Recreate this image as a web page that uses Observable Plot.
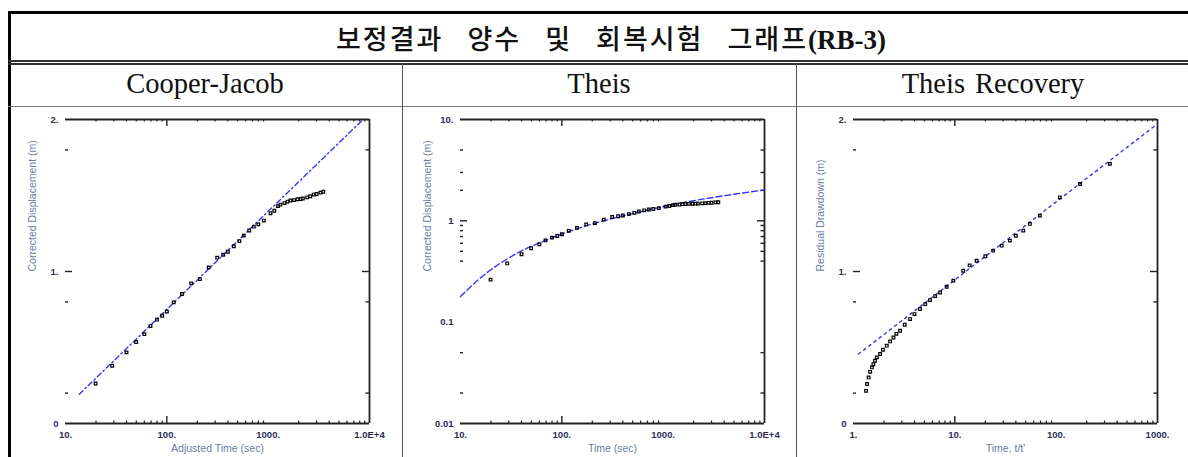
<!DOCTYPE html>
<html>
<head>
<meta charset="utf-8">
<script src="https://cdn.jsdelivr.net/npm/d3@7"></script>
<script src="https://cdn.jsdelivr.net/npm/@observablehq/plot@0.6"></script>
<style>
  html, body { margin: 0; padding: 0; background: #fff; width: 1188px; height: 457px; overflow: hidden; }
  .line { position: absolute; }
  .title { position: absolute; left: 0; width: 1222px; top: 21px; text-align: center; font-family: "Noto Sans CJK KR", sans-serif; font-weight: 500; font-size: 27px; letter-spacing: 2px; word-spacing: 16px; color: #111; line-height: 34px; white-space: nowrap; }
  .title .en { font-family: "Liberation Serif", serif; font-weight: bold; letter-spacing: 0; }
  .head { position: absolute; top: 68px; font-family: "Liberation Serif", serif; font-size: 28.5px; word-spacing: 3px; color: #111; text-align: center; line-height: 32px; white-space: nowrap; }
  .panel { position: absolute; top: 105px; }
  .panel svg { background: transparent !important; overflow: visible; }
</style>
</head>
<body>
<div id="root"></div>
<script>
// ---------- data ----------
const panelTitles = ["Cooper-Jacob", "Theis", "Theis Recovery"];
const chartTitle = "보정결과 양수 및 회복시험 그래프";
const chartTitleTag = "(RB-3)";

// observed displacement (used by Cooper-Jacob and Theis)
const obsTime = [19.8, 28.9, 40, 49.8, 60, 69, 80, 90, 100, 117, 141, 174, 212, 259, 314, 360, 400, 458, 520, 575, 650, 722, 800, 906, 1054, 1150, 1250, 1320, 1450, 1550, 1660, 1800, 1950, 2084, 2200, 2427, 2600, 2820, 3000, 3280, 3500];
const obsDisp = [0.263, 0.380, 0.468, 0.536, 0.588, 0.641, 0.683, 0.709, 0.737, 0.797, 0.852, 0.922, 0.95, 1.027, 1.091, 1.11, 1.13, 1.166, 1.20, 1.236, 1.27, 1.295, 1.31, 1.335, 1.383, 1.40, 1.43, 1.44, 1.45, 1.46, 1.467, 1.47, 1.475, 1.477, 1.48, 1.488, 1.495, 1.506, 1.51, 1.519, 1.525];

// Cooper-Jacob fitted straight line
const cjLineTime = [13.7, 8340];
const cjLineDisp = [0.193, 1.99];

// Theis type-curve fit
const theisTime = [10, 15, 20, 30, 40, 60, 100, 200, 500, 1000, 2000, 5000, 10000];
const theisDisp = [0.179, 0.262, 0.33, 0.43, 0.505, 0.605, 0.74, 0.93, 1.18, 1.38, 1.58, 1.83, 2.02];

// Theis recovery: residual drawdown vs t/t'
const recRatio = [1.33, 1.36, 1.41, 1.46, 1.52, 1.57, 1.63, 1.7, 1.83, 1.95, 2.13, 2.3, 2.48, 2.65, 2.88, 3.2, 3.62, 4.0, 4.53, 5.1, 5.69, 6.4, 7.15, 8.3, 9.67, 12.1, 14, 16.4, 20, 23.9, 29, 34.9, 40, 47.4, 55, 69, 108.8, 172, 339];
const recDraw = [0.215, 0.26, 0.303, 0.34, 0.369, 0.39, 0.413, 0.435, 0.457, 0.485, 0.512, 0.54, 0.566, 0.59, 0.61, 0.65, 0.687, 0.72, 0.753, 0.785, 0.812, 0.838, 0.862, 0.90, 0.94, 1.005, 1.04, 1.071, 1.10, 1.137, 1.17, 1.203, 1.235, 1.269, 1.313, 1.368, 1.488, 1.576, 1.708];
const recLineRatio = [1.12, 980];
const recLineDraw = [0.457, 1.967];

// tick labels
const timeTickVals = [10, 100, 1000, 10000];
const timeTickText = ["10.", "100.", "1000.", "1.0E+4"];
const ratioTickVals = [1, 10, 100, 1000];
const ratioTickText = ["1.", "10.", "100.", "1000."];
const linTickVals = [0, 1, 2];
const linTickText = ["0", "1.", "2."];
const logYTickVals = [0.01, 0.1, 1, 10];
const logYTickText = ["0.01", "0.1", "1", "10."];
const linMinorY = [0.2, 0.8, 1.8];
const logMinorY = [5, 3, 2, 0.9, 0.8, 0.7, 0.6, 0.5, 0.4, 0.05, 0.02];

const xTitles = ["Adjusted Time (sec)", "Time (sec)", "Time, t/t'"];
const yTitles = ["Corrected Displacement (m)", "Corrected Displacement (m)", "Residual Drawdown (m)"];

// ---------- layout ----------
const root = document.getElementById("root");
function addLine(l, t, w, h, c) {
  const d = document.createElement("div");
  d.className = "line";
  Object.assign(d.style, {left: l + "px", top: t + "px", width: w + "px", height: h + "px", background: c, zIndex: 5});
  root.appendChild(d);
}
const t = document.createElement("div");
t.className = "title";
t.innerHTML = chartTitle + `<span class="en">${chartTitleTag}</span>`;
root.appendChild(t);

const colCenters = [205, 599, 993];
panelTitles.forEach((s, i) => {
  const d = document.createElement("div");
  d.className = "head";
  d.style.left = (colCenters[i] - 150) + "px";
  d.style.width = "300px";
  d.textContent = s;
  root.appendChild(d);
});

const BLUE = "#3434f4";
const TICK = "#222";
const LABEL = "#2c2c58";
const TITLE = "#6c7ca6";
const FW = 304, FH = 304;

function minorLog(lo, hi) {
  const out = [];
  for (let p = lo; p < hi; p *= 10) for (let k = 2; k <= 9; k++) out.push(p * k);
  return out;
}

function panel(o) {
  const xMinor = minorLog(o.xDomain[0], o.xDomain[1]);
  const xMajor = [o.xDomain[0] * 10];
  const yMajor = o.yMajor;
  const marks = [
    // frame lines (top, bottom, right)
    Plot.ruleY([o.yDomain[1]], {stroke: TICK, strokeWidth: 1.8}),
    Plot.ruleY([o.yDomain[0]], {stroke: TICK, strokeWidth: 1.8}),
    Plot.ruleX([o.xDomain[1]], {stroke: TICK, strokeWidth: 1.8}),
    // x ticks bottom / top
    Plot.tickX(xMinor, {x: d => d, insetTop: FH - 2.5, stroke: TICK, strokeWidth: 1.2}),
    Plot.tickX(xMinor, {x: d => d, insetBottom: FH - 2.5, stroke: TICK, strokeWidth: 1.2}),
    Plot.tickX(xMajor, {x: d => d, insetTop: FH - 7, stroke: TICK, strokeWidth: 1.4}),
    Plot.tickX(xMajor, {x: d => d, insetBottom: FH - 7, stroke: TICK, strokeWidth: 1.4}),
    // y ticks left / right
    Plot.tickY(o.yMinor, {y: d => d, insetRight: FW - 3, stroke: TICK, strokeWidth: 1.4}),
    Plot.tickY(o.yMinor, {y: d => d, insetLeft: FW - 3.5, stroke: TICK, strokeWidth: 1.4}),
    Plot.tickY(yMajor, {y: d => d, insetRight: FW - 7, stroke: TICK, strokeWidth: 1.4}),
    Plot.tickY(yMajor, {y: d => d, insetLeft: FW - 7, stroke: TICK, strokeWidth: 1.4}),
    // axis labels
    Plot.axisX({ticks: o.xTickVals, tickSize: 0, tickPadding: 8, tickFormat: d => o.xTickText[o.xTickVals.indexOf(d)], label: null, color: LABEL, fontWeight: "bold", fontSize: 9.5}),
    Plot.axisY({ticks: o.yTickVals, tickSize: 0, tickPadding: 7, tickFormat: d => o.yTickText[o.yTickVals.indexOf(d)], label: null, color: LABEL, fontWeight: "bold", fontSize: 9.5}),
    Plot.text([o.xTitle], {frameAnchor: "bottom", dy: 28, text: d => d, fill: TITLE, fontSize: 10.5}),
    Plot.text([o.yTitle], {frameAnchor: "left", dx: -33, rotate: -90, text: d => d, fill: TITLE, fontSize: 10.5}),
    // fitted line
    Plot.line(o.fitX.map((x, i) => ({x, y: o.fitY[i]})), {x: "x", y: "y", stroke: BLUE, strokeWidth: 1.4, strokeDasharray: o.dash, curve: o.curve || "linear"}),
    // observations
    Plot.dot(o.obsX.map((x, i) => ({x, y: o.obsY[i]})), {x: "x", y: "y", symbol: "square", r: 1.5, stroke: "#000", strokeWidth: 1.2, fill: "none"})
  ];
  return Plot.plot({
    width: FW + 80, height: 352,
    marginLeft: 60, marginRight: 20, marginTop: 14, marginBottom: 34,
    x: {type: "log", domain: o.xDomain},
    y: {type: o.yType, domain: o.yDomain},
    style: {fontFamily: "Liberation Sans, Arial, sans-serif", background: "transparent", overflow: "visible"},
    marks
  });
}

const panels = [
  panel({xDomain: [10, 10000], yType: "linear", yDomain: [0, 2], yMajor: [1], yMinor: linMinorY,
    xTickVals: timeTickVals, xTickText: timeTickText, yTickVals: linTickVals, yTickText: linTickText,
    xTitle: xTitles[0], yTitle: yTitles[0], fitX: cjLineTime, fitY: cjLineDisp, dash: "5,3,1.5,3",
    obsX: obsTime, obsY: obsDisp}),
  panel({xDomain: [10, 10000], yType: "log", yDomain: [0.01, 10], yMajor: [1], yMinor: logMinorY,
    xTickVals: timeTickVals, xTickText: timeTickText, yTickVals: logYTickVals, yTickText: logYTickText,
    xTitle: xTitles[1], yTitle: yTitles[1], fitX: theisTime, fitY: theisDisp, dash: "6,3", curve: "monotone-x",
    obsX: obsTime, obsY: obsDisp}),
  panel({xDomain: [1, 1000], yType: "linear", yDomain: [0, 2], yMajor: [1], yMinor: linMinorY,
    xTickVals: ratioTickVals, xTickText: ratioTickText, yTickVals: linTickVals, yTickText: linTickText,
    xTitle: xTitles[2], yTitle: yTitles[2], fitX: recLineRatio, fitY: recLineDraw, dash: "2.5,4",
    obsX: recRatio, obsY: recDraw})
];
const lefts = [5, 400, 793];
panels.forEach((svg, i) => {
  const d = document.createElement("div");
  d.className = "panel";
  d.style.left = lefts[i] + "px";
  d.appendChild(svg);
  root.appendChild(d);
});

// table rules
addLine(8, 11, 1190, 3, "#000");        // top border
addLine(8, 11, 3, 460, "#000");         // left border
addLine(8, 60, 1190, 1.5, "#333");      // double rule
addLine(8, 63, 1190, 1.5, "#333");
addLine(8, 105.5, 1190, 1.5, "#777");   // header bottom
addLine(401.5, 63, 1.5, 400, "#555");   // column separators
addLine(795.5, 63, 1.5, 400, "#555");
</script>
</body>
</html>
